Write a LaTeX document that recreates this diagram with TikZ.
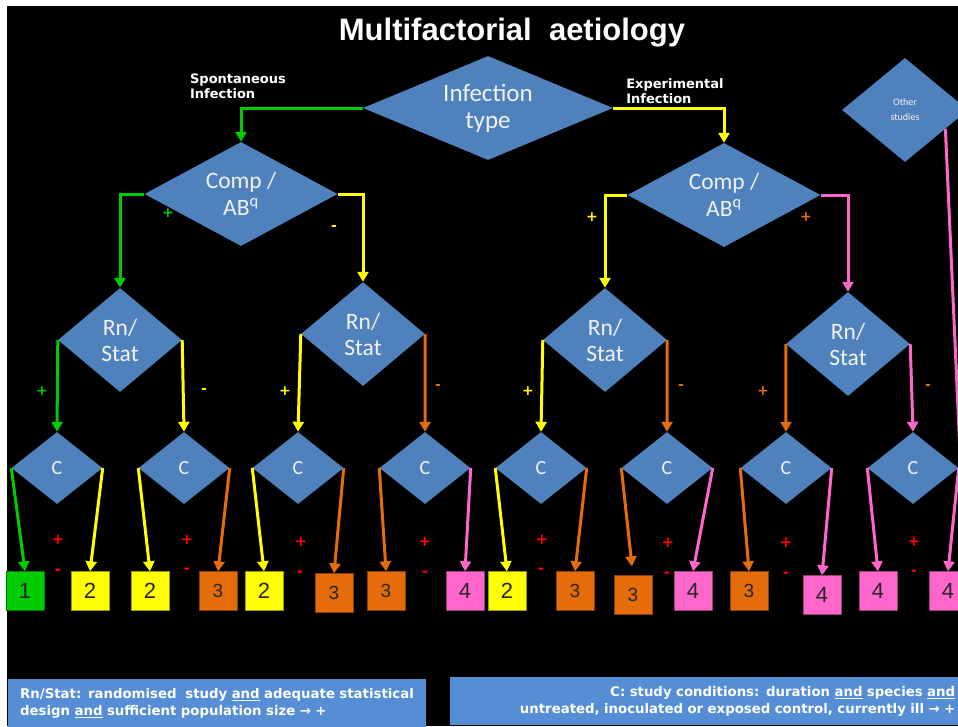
\documentclass[tikz,border=0pt]{standalone}
\usepackage{fontspec}
\setmainfont{Carlito}
\newfontfamily\headfont{Liberation Sans}
\newfontfamily\notefont{DejaVu Sans}
\usepackage{tikz}
\usetikzlibrary{shapes.geometric,arrows.meta}

\definecolor{dblue}{HTML}{4F81BD}
\definecolor{lblue}{HTML}{558ED5}
\definecolor{grn}{HTML}{00CC00}
\definecolor{ylw}{HTML}{FFFF00}
\definecolor{org}{HTML}{E46C0A}
\definecolor{pnk}{HTML}{FF66CC}
\definecolor{txtlt}{HTML}{F2F2F2}

\begin{document}
\begin{tikzpicture}[x=1pt,y=-1pt,
    dec/.style={diamond,fill=dblue,inner sep=0pt,text=txtlt,align=center},
    big/.style={dec,aspect=2.4,minimum width=250pt,minimum height=104pt,font=\fontsize{25}{27}\selectfont},
    comp/.style={dec,aspect=1.8,minimum width=193pt,minimum height=104pt,font=\fontsize{23.5}{27}\selectfont},
    rnst/.style={dec,aspect=1.2,minimum width=124pt,minimum height=104pt,font=\fontsize{23.5}{26}\selectfont},
    cnd/.style={dec,aspect=1.3,minimum width=91pt,minimum height=72pt,font=\fontsize{20}{20}\selectfont},
    oth/.style={dec,aspect=1.2,minimum width=126pt,minimum height=104pt,font=\fontsize{10}{15}\selectfont},
    lnk/.style={line width=3pt,-{Triangle[width=11pt,length=10pt]}},
    gl/.style={lnk,draw=grn},
    yl/.style={lnk,draw=ylw},
    ol/.style={lnk,draw=org},
    pl/.style={lnk,draw=pnk},
    outbox/.style={draw=#1!60!black,fill=#1,minimum width=38pt,minimum height=39pt,inner sep=0pt,
        text=black!85,font=\headfont\fontsize{22}{22}\selectfont},
    pm/.style={font=\notefont\bfseries\fontsize{14}{14}\selectfont,inner sep=0pt},
    rpm/.style={pm,text=red,font=\notefont\bfseries\fontsize{15}{15}\selectfont},
    note/.style={font=\notefont\bfseries\fontsize{13}{15}\selectfont,text=white,align=left,inner sep=0pt},
    legend/.style={fill=lblue,text=white,inner ysep=9pt,font=\notefont\bfseries\fontsize{13.3}{17}\selectfont}]

    \useasboundingbox (0,0) rectangle (958,726);
    \clip (0,0) rectangle (958,726);
    \fill[white] (0,0) rectangle (958,726);
    \fill[black] (7,6) rectangle (958,726);

    % title and top level
    \node[font=\headfont\bfseries\fontsize{31}{31}\selectfont,text=white] (ttl) at (512,33) {Multifactorial\ \ aetiology};
    \node[big] (inf) at (488,108) {Infection\\type};
    \node[note] (spon) at (238,86) {Spontaneous\\Infection};
    \node[note] (expt) at (675,91) {Experimental\\Infection};
    \node[oth] (oth) at (905,110) {Other\\studies};

    \node[comp] (cmpl) at (241,194) {Comp /\\AB\textsuperscript{q}};
    \node[comp] (cmpr) at (724,195) {Comp /\\AB\textsuperscript{q}};

    \node[rnst] (rn1) at (120,340) {Rn/\\Stat};
    \node[rnst] (rn2) at (363,334) {Rn/\\Stat};
    \node[rnst] (rn3) at (605,340) {Rn/\\Stat};
    \node[rnst] (rn4) at (848,344) {Rn/\\Stat};

    \node[cnd] (c1) at (57,468) {C};
    \node[cnd] (c2) at (184,468) {C};
    \node[cnd] (c3) at (298,468) {C};
    \node[cnd] (c4) at (425,468) {C};
    \node[cnd] (c5) at (541,468) {C};
    \node[cnd] (c6) at (667,468) {C};
    \node[cnd] (c7) at (786,468) {C};
    \node[cnd] (c8) at (913,468) {C};

    % outcome boxes
    \node[outbox=grn] (b1) at (25,591) {1};
    \node[outbox=ylw] (b2a) at (90,591) {2};
    \node[outbox=ylw] (b2b) at (150,591) {2};
    \node[outbox=org,font=\headfont\fontsize{19}{19}\selectfont] (b3a) at (218,591) {3};
    \node[outbox=ylw] (b2c) at (264,591) {2};
    \node[outbox=org,font=\headfont\fontsize{19}{19}\selectfont] (b3b) at (334,593) {3};
    \node[outbox=org,font=\headfont\fontsize{19}{19}\selectfont] (b3c) at (386,591) {3};
    \node[outbox=pnk] (b4a) at (465,591) {4};
    \node[outbox=ylw] (b2d) at (507,591) {2};
    \node[outbox=org,font=\headfont\fontsize{19}{19}\selectfont] (b3d) at (575,591) {3};
    \node[outbox=org,font=\headfont\fontsize{19}{19}\selectfont] (b3e) at (633,595) {3};
    \node[outbox=pnk] (b4b) at (693,591) {4};
    \node[outbox=org,font=\headfont\fontsize{19}{19}\selectfont] (b3f) at (749,591) {3};
    \node[outbox=pnk] (b4c) at (822,595) {4};
    \node[outbox=pnk] (b4d) at (878,591) {4};
    \node[outbox=pnk] (b4e) at (948,591) {4};

    % branches
    \draw[gl] (inf.west) -| (cmpl.north);
    \draw[yl] (inf.east) -| (cmpr.north);
    \draw[gl] (cmpl.west) -| (rn1.north);
    \draw[yl] (cmpl.east) -| (rn2.north);
    \draw[yl] (cmpr.west) -| (rn3.north);
    \draw[pl] (cmpr.east) -| (rn4.north);
    \coordinate (offr) at (963,520);
    \draw[pl,-] (oth.-25) -- (offr);

    \draw[gl] (rn1.west) -- (c1.north);
    \draw[yl] (rn1.east) -- (c2.north);
    \draw[yl] (rn2.west) -- (c3.north);
    \draw[ol] (rn2.east) -- (c4.north);
    \draw[yl] (rn3.west) -- (c5.north);
    \draw[ol] (rn3.east) -- (c6.north);
    \draw[ol] (rn4.west) -- (c7.north);
    \draw[pl] (rn4.east) -- (c8.north);

    \draw[gl] (c1.west) -- (b1.north);
    \draw[yl] (c1.east) -- (b2a.north);
    \draw[yl] (c2.west) -- (b2b.north);
    \draw[ol] (c2.east) -- (b3a.north);
    \draw[yl] (c3.west) -- (b2c.north);
    \draw[ol] (c3.east) -- (b3b.north);
    \draw[ol] (c4.west) -- (b3c.north);
    \draw[pl] (c4.east) -- (b4a.north);
    \draw[yl] (c5.west) -- (b2d.north);
    \draw[ol] (c5.east) -- (b3d.north);
    \draw[ol,shorten >=9pt] (c6.west) -- (b3e.north);
    \draw[pl] (c6.east) -- (b4b.north);
    \draw[ol] (c7.west) -- (b3f.north);
    \draw[pl] (c7.east) -- (b4c.north);
    \draw[pl] (c8.west) -- (b4d.north);
    \draw[pl] (c8.east) -- (b4e.north);

    % signs on the branches
    \node[pm,text=grn] (sg1) at (168,213) {+};
    \node[pm,text=ylw] (sg2) at (334,228) {-};
    \node[pm,text=ylw] (sg3) at (592,217) {+};
    \node[pm,text=org] (sg4) at (806,217) {+};
    \node[pm,text=grn] (sg5) at (42,391) {+};
    \node[pm,text=ylw] (sg6) at (204,391) {-};
    \node[pm,text=ylw] (sg7) at (285,391) {+};
    \node[pm,text=org] (sg8) at (438,387) {-};
    \node[pm,text=ylw] (sg9) at (528,391) {+};
    \node[pm,text=org] (sg10) at (681,387) {-};
    \node[pm,text=org] (sg11) at (763,391) {+};
    \node[pm,text=org] (sg12) at (928,387) {-};

    \node[rpm] (rp1) at (58,540) {+};   \node[rpm] (rm1) at (58,572) {-};
    \node[rpm] (rp2) at (187,540) {+};  \node[rpm] (rm2) at (187,571) {-};
    \node[rpm] (rp3) at (301,542) {+};  \node[rpm] (rm3) at (300,574) {-};
    \node[rpm] (rp4) at (425,542) {+};  \node[rpm] (rm4) at (425,574) {-};
    \node[rpm] (rp5) at (542,540) {+};  \node[rpm] (rm5) at (541,571) {-};
    \node[rpm] (rp6) at (668,543) {+};  \node[rpm] (rm6) at (667,575) {-};
    \node[rpm] (rp7) at (786,543) {+};  \node[rpm] (rm7) at (786,575) {-};
    \node[rpm] (rp8) at (914,542) {+};  \node[rpm] (rm8) at (914,573) {-};

    % legend
    \node[legend,anchor=north west,text width=394pt,inner xsep=12pt,align=left] (leg1) at (8,679)
        {Rn/Stat: randomised\ \ study \underline{and} adequate statistical\\design \underline{and} sufficient population size → +};
    \node[legend,anchor=north west,text width=500pt,inner xsep=5pt,align=right] (leg2) at (450,677)
        {C: study conditions: duration \underline{and} species \underline{and}\\untreated, inoculated or exposed control, currently ill → +};
\end{tikzpicture}
\end{document}
